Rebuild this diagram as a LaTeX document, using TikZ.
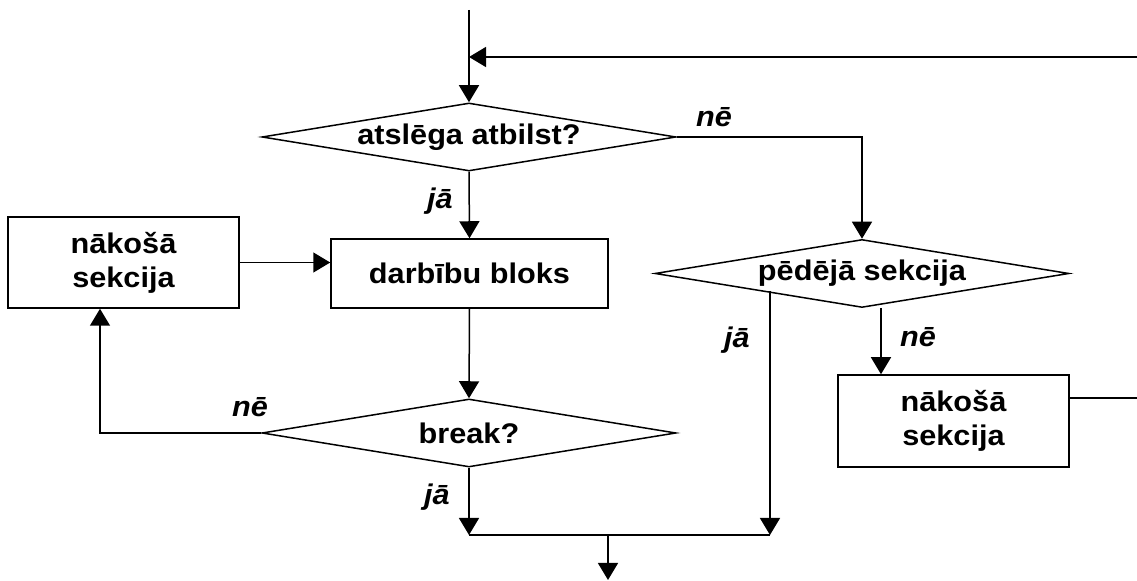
\documentclass[tikz,border=0pt]{standalone}
\usepackage{fontspec}
\setmainfont{Liberation Sans}[FakeStretch=1.08]
\usetikzlibrary{arrows.meta,shapes.geometric,calc}

\begin{document}
\begin{tikzpicture}[x=0.5pt, y=-0.5pt, line width=0.75pt,
  font=\fontsize{14.2pt}{17pt}\selectfont\bfseries,
  bloks/.style={draw, minimum width=115.5pt, minimum height=45.5pt, align=center, inner sep=0pt},
  lemums/.style={draw, diamond, minimum width=207pt, minimum height=34pt, inner sep=0pt},
  atbilde/.style={font=\fontsize{14.2pt}{17pt}\selectfont\bfseries\itshape, inner sep=0pt},
  bulta/.style={-{Triangle[length=8.5pt,width=10pt]}}]
\useasboundingbox (0,0) rectangle (1137,581);
\node[lemums, label=center:atslēga atbilst?] (atb) at (469,137) {};
\node[bloks, minimum width=138.5pt, minimum height=34.5pt] (db) at (469.5,273.5) {darbību bloks};
\node[bloks] (sekL) at (123.5,262.5) {nākošā\\ sekcija};
\node[lemums, label=center:break?] (brk) at (469,433) {};
\node[lemums, label=center:pēdējā sekcija] (ped) at (862,273.5) {};
\node[bloks, minimum height=46pt] (sekR) at (953.5,421) {nākošā\\ sekcija};
\node[atbilde] (ne1) at (714,117.5) {nē};
\node[atbilde] (ja1) at (440,201) {jā};
\node[atbilde] (ja2) at (737,340) {jā};
\node[atbilde] (ne2) at (918,337) {nē};
\node[atbilde] (ne3) at (250,407) {nē};
\node[atbilde] (ja3) at (437,497) {jā};
\coordinate (ieeja) at (469,10);
\coordinate (cilpa) at (1137,57);
\coordinate (cilpaJ) at (469,57);
\coordinate (labaisG) at (1137,398);
\coordinate (apv1) at (469,535);
\coordinate (apv2) at (770,535);
\coordinate (izeja) at (608,535);
\coordinate (beigas) at (608,580);
\draw[bulta] (ieeja) -- (atb.north);
\draw[bulta] (cilpa) -- (cilpaJ);
\draw[bulta] (atb.south) -- (db.north);
\draw[bulta] (atb.east) -| (ped.north);
\draw[bulta] (sekL.east) -- (sekL.east -| db.west);
\draw[bulta] (db.south) -- (brk.north);
\draw[bulta] (brk.west) -| ([xshift=-11.75pt]sekL.south);
\draw[bulta] (brk.south) -- (apv1);
\draw (apv1) -- (apv2);
\draw[bulta] (ped.south west -| apv2) -- (apv2);
\draw[bulta] ([xshift=9.5pt]ped.south) -- ([xshift=9.5pt]ped.south |- sekR.north);
\draw ([yshift=11.5pt]sekR.east) -- (labaisG);
\draw[bulta] (izeja) -- (beigas);
\end{tikzpicture}
\end{document}
